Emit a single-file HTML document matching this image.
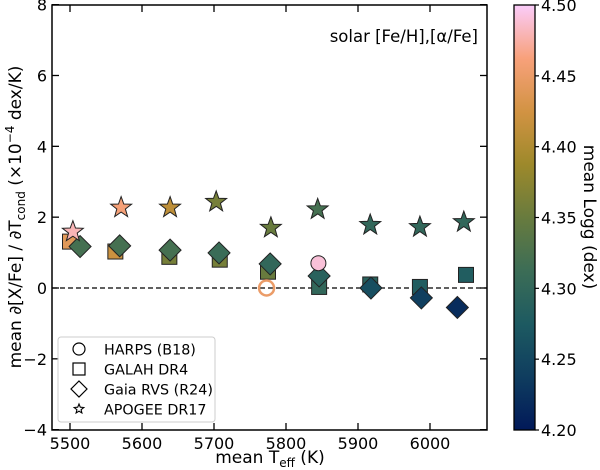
<!DOCTYPE html>
<html><head><meta charset="utf-8">
<style>
html,body{margin:0;padding:0;background:#fff;}
svg{display:block;font-family:"DejaVu Sans","Liberation Sans",sans-serif;}
</style></head>
<body>
<svg id="chart" width="600" height="470" viewBox="0 0 600 470" xmlns="http://www.w3.org/2000/svg">
<defs>
<linearGradient id="batlow" x1="0" y1="1" x2="0" y2="0">
<stop offset="0" stop-color="#011959"/><stop offset="0.125" stop-color="#0f3d5f"/>
<stop offset="0.25" stop-color="#1d5a61"/><stop offset="0.375" stop-color="#3c6d56"/>
<stop offset="0.5" stop-color="#687b3e"/><stop offset="0.625" stop-color="#9d892b"/>
<stop offset="0.75" stop-color="#d29343"/><stop offset="0.875" stop-color="#f8a17b"/>
<stop offset="1" stop-color="#faccfa"/>
</linearGradient>
</defs>
<g id="plot"></g>
</svg>
<script>
const xTicks=[5500,5600,5700,5800,5900,6000];
const yTicks=[-4,-2,0,2,4,6,8];
const cbTicks=[4.20,4.25,4.30,4.35,4.40,4.45,4.50];
const apogeeT=[5504,5571,5639,5703,5779,5844,5917,5986,6047];
const apogeeV=[1.59,2.27,2.27,2.43,1.70,2.22,1.78,1.72,1.86];
const apogeeG=[4.48,4.46,4.41,4.36,4.35,4.32,4.30,4.30,4.30];
const galahT=[5500,5563,5638,5708,5775,5846,5917,5986,6050];
const galahV=[1.31,1.03,0.88,0.80,0.46,0.03,0.10,0.03,0.37];
const galahG=[4.44,4.42,4.36,4.36,4.35,4.30,4.29,4.28,4.28];
const gaiaT=[5514,5569,5639,5707,5778,5846,5918,5988,6038];
const gaiaV=[1.17,1.19,1.07,0.99,0.68,0.34,0.00,-0.28,-0.55];
const gaiaG=[4.32,4.32,4.32,4.31,4.30,4.29,4.26,4.24,4.22];
const harpsT=[5845];
const harpsV=[0.70];
const harpsG=[4.49];
const harpsOpenT=[5773];
const harpsOpenV=[0.00];
const harpsOpenG=[4.45];

const L=52,R=487,T=5,B=430;
const X=t=>70+(t-5500)*0.72;
const Y=v=>288-v*35.417;
const CB_T=5,CB_B=430,CB_L=514,CB_R=535;
const CY=g=>CB_B-(g-4.2)/0.3*(CB_B-CB_T);
const stops=[[0,[1,25,89]],[0.125,[15,61,95]],[0.25,[29,90,97]],[0.375,[60,109,86]],[0.5,[104,123,62]],[0.625,[157,137,43]],[0.75,[210,147,67]],[0.875,[248,161,123]],[1,[250,204,250]]];
function cmap(g){let f=Math.max(0,Math.min(1,(g-4.2)/0.3));for(let i=1;i<stops.length;i++){if(f<=stops[i][0]){const a=stops[i-1],b=stops[i];const u=(f-a[0])/(b[0]-a[0]);const c=a[1].map((v,k)=>Math.round(v+(b[1][k]-v)*u));return `rgb(${c})`;}}return 'rgb(250,204,250)';}
const NS='http://www.w3.org/2000/svg';
const svg=document.getElementById('chart');
function mk(tag,attrs,parent){const e=document.createElementNS(NS,tag);for(const k in attrs)e.setAttribute(k,attrs[k]);(parent||svg).appendChild(e);return e;}
function starPts(cx,cy,ro,ri){let p=[];for(let i=0;i<10;i++){const a=-Math.PI/2+i*Math.PI/5;const r=i%2?ri:ro;p.push((cx+r*Math.cos(a)).toFixed(1)+','+(cy+r*Math.sin(a)).toFixed(1));}return p.join(' ');}

let e=mk('line',{x1:L,x2:R,y1:Y(0),y2:Y(0),stroke:'#000','stroke-width':1.3,'stroke-dasharray':'5,3'});



for(let i=0;i<galahT.length;i++){
 const cx=X(galahT[i]),cy=Y(galahV[i]);
 e=mk('rect',{x:cx-7.5,y:cy-7.5,width:15,height:15,fill:cmap(galahG[i]),stroke:'#222','stroke-width':1});
 
 
}
for(let i=0;i<gaiaT.length;i++){
 const cx=X(gaiaT[i]),cy=Y(gaiaV[i]);
 e=mk('polygon',{points:`${cx},${cy-11} ${cx+11},${cy} ${cx},${cy+11} ${cx-11},${cy}`,fill:cmap(gaiaG[i]),stroke:'#222','stroke-width':1});
 
 
}
for(let i=0;i<harpsT.length;i++){
 e=mk('circle',{cx:X(harpsT[i]),cy:Y(harpsV[i]),r:7.5,fill:cmap(harpsG[i]),stroke:'#222','stroke-width':1});
 
 
}
for(let i=0;i<harpsOpenT.length;i++){
 e=mk('circle',{cx:X(harpsOpenT[i]),cy:Y(harpsOpenV[i]),r:7.5,fill:'none',stroke:cmap(harpsOpenG[i]),'stroke-width':2.5});
 
 
}
for(let i=0;i<apogeeT.length;i++){
 e=mk('polygon',{points:starPts(X(apogeeT[i]),Y(apogeeV[i]),11,4.5),fill:cmap(apogeeG[i]),stroke:'#222','stroke-width':1});
 
 
}

e=mk('rect',{x:L,y:T,width:R-L,height:B-T,fill:'none',stroke:'#000','stroke-width':1.5});


for(const t of xTicks){
 mk('line',{x1:X(t),x2:X(t),y1:B,y2:B-7,stroke:'#000','stroke-width':1.3});
 mk('line',{x1:X(t),x2:X(t),y1:T,y2:T+7,stroke:'#000','stroke-width':1.3});
 e=mk('text',{x:X(t),y:B+19,'text-anchor':'middle','font-size':16});
 e.textContent=t;
 
 
}
for(const v of yTicks){
 mk('line',{x1:L,x2:L+7,y1:Y(v),y2:Y(v),stroke:'#000','stroke-width':1.3});
 mk('line',{x1:R,x2:R-7,y1:Y(v),y2:Y(v),stroke:'#000','stroke-width':1.3});
 e=mk('text',{x:L-5,y:Y(v)+6,'text-anchor':'end','font-size':16});
 e.textContent=v<0?'\u2212'+(-v):String(v);
 
 
}
e=mk('text',{x:478,y:42,'text-anchor':'end','font-size':16.5});
e.textContent='solar [Fe/H],[\u03b1/Fe]';



e=mk('text',{x:270,y:463,'text-anchor':'middle','font-size':17});
e.innerHTML='mean T<tspan font-size="12" dy="4">eff</tspan><tspan dy="-4"> (K)</tspan>';


e=mk('text',{x:0,y:0,'text-anchor':'middle','font-size':17,transform:'translate(21,217) rotate(-90)'});
e.innerHTML='mean \u2202[X/Fe] / \u2202T<tspan font-size="12" dy="4">cond</tspan><tspan dy="-4"> (\u00d710</tspan><tspan font-size="12" dy="-7">\u22124</tspan><tspan dy="7"> dex/K)</tspan>';



const lg=mk('g',{});


mk('rect',{x:58,y:337,width:157,height:85,rx:3,fill:'#fff','fill-opacity':0.85,stroke:'#ccc','stroke-width':1},lg);
const legNames=['HARPS (B18)','GALAH DR4','Gaia RVS (R24)','APOGEE DR17'];
legNames.forEach((n,i)=>{
 const y=349+i*20,x=79;
 let m;
 if(i==0)m=mk('circle',{cx:x,cy:y,r:6,fill:'none',stroke:'#000','stroke-width':1.2},lg);
 if(i==1)m=mk('rect',{x:x-6,y:y-6,width:12,height:12,fill:'none',stroke:'#000','stroke-width':1.2},lg);
 if(i==2)m=mk('polygon',{points:`${x},${y-8} ${x+8},${y} ${x},${y+8} ${x-8},${y}`,fill:'none',stroke:'#000','stroke-width':1.2},lg);
 if(i==3)m=mk('polygon',{points:starPts(x,y,5,2.2),fill:'none',stroke:'#000','stroke-width':1.1},lg);
 
 
 const t=mk('text',{x:104,y:y+5.5,'font-size':14.3},lg);
 t.textContent=n;
 
 
});

e=mk('rect',{x:CB_L,y:CB_T,width:CB_R-CB_L,height:CB_B-CB_T,fill:'url(#batlow)',stroke:'#000','stroke-width':1.3});


for(const g of cbTicks){
 mk('line',{x1:CB_R,x2:CB_R+4,y1:CY(g),y2:CY(g),stroke:'#000','stroke-width':1.2});
 e=mk('text',{x:CB_R+6,y:CY(g)+6,'font-size':16});
 e.textContent=g.toFixed(2);
 
 
}
e=mk('text',{x:0,y:0,'text-anchor':'middle','font-size':17,transform:'translate(584,217) rotate(90)'});
e.textContent='mean Logg (dex)';


</script>
</body></html>
